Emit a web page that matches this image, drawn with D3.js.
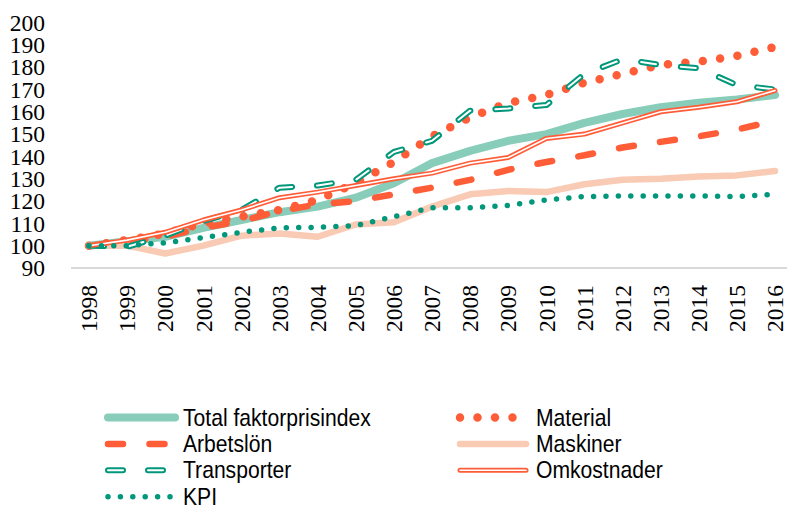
<!DOCTYPE html>
<html>
<head>
<meta charset="utf-8">
<script src="https://cdn.jsdelivr.net/npm/d3@7"></script>
<style>
  body { margin: 0; background: #fff; }
  svg { display: block; }
  .ylab, .xlab { font-family: "Liberation Serif", "Times New Roman", serif; font-size: 23.5px; fill: #000; }
  .leg { font-family: "Liberation Sans", Arial, sans-serif; font-size: 24px; fill: #000; }
</style>
</head>
<body>
<svg id="chart" width="787" height="505"></svg>
<script>
var years = ["1998","1999","2000","2001","2002","2003","2004","2005","2006","2007","2008","2009","2010","2011","2012","2013","2014","2015","2016"];
var yTicks = [90,100,110,120,130,140,150,160,170,180,190,200];

var total       = [100,102,104,108,111.5,115,117.5,121.5,128,137,142.5,147,150,155,159,162,164,165.5,167.5];
var material    = [100,102.5,105.5,110,113,116,120.5,128,137.5,149,157.5,164,167.5,173,177,181,182.5,185,189];
var arbetslon   = [100,102,104,108,111,115.5,118.5,120,123,126,129.5,134,137.5,140.5,144,146.5,149,152,156];
var maskiner    = [100,100,96.5,100,104.5,105.5,104,109.5,110.5,117.5,123,124.5,124,127.5,129.5,130,131,131.5,133.5];
var transporter = [100,99.5,104.5,111,116,126,127,129.5,142,147,160.5,161.5,163,177,183.5,181,179.5,172,170];
var omkostnader = [100,102.5,106,111.5,116,121.5,124,127,130,132.5,137,139.5,148,150,155,160,162,164.5,169.5];
var kpi         = [100,100,101.3,103.6,106,108,108.2,109,113,117,117,118,120.5,122,122.3,122.3,122.3,122,123];

var teal = "#00977a", tealLight = "#88cdb9", orange = "#ff5c38", peach = "#f9cab4";

// each series: list of stroke layers drawn on top of each other
var series = [
  {name: "Total faktorprisindex", values: total, layers: [{color: tealLight, width: 8}]},
  {name: "Material", values: material, layers: [{color: orange, width: 8.5, dash: "0,17.5"}]},
  {name: "Arbetslön", values: arbetslon, layers: [{color: orange, width: 6.5, dash: "15,26.5"}]},
  {name: "Maskiner", values: maskiner, layers: [{color: peach, width: 6.5}]},
  {name: "Transporter", values: transporter, layers: [{color: teal, width: 6, dash: "15,25"}, {color: "#fff", width: 2, dash: "15,25"}]},
  {name: "Omkostnader", values: omkostnader, layers: [{color: orange, width: 5}, {color: "#fff", width: 1.6}]},
  {name: "KPI", values: kpi, layers: [{color: teal, width: 5.5, dash: "0,12.4"}]}
];

var svg = d3.select("#chart");

var x = d3.scalePoint().domain(years).range([89, 775]);
var y = d3.scaleLinear().domain([90, 200]).range([268, 22.5]);

// y labels
svg.append("g").selectAll("text")
    .data(yTicks)
    .enter().append("text")
    .attr("class", "ylab")
    .attr("x", 45)
    .attr("y", function(d) { return y(d); })
    .attr("dy", "0.35em")
    .attr("text-anchor", "end")
    .text(function(d) { return d; });

// baseline
svg.append("line")
    .attr("x1", 71).attr("x2", 787)
    .attr("y1", y(90)).attr("y2", y(90))
    .attr("stroke", "#d9d9d9")
    .attr("stroke-width", 2);

// x labels, rotated
svg.append("g").selectAll("text")
    .data(years)
    .enter().append("text")
    .attr("class", "xlab")
    .attr("transform", function(d) { return "translate(" + x(d) + ",285) rotate(-90)"; })
    .attr("dy", "0.35em")
    .attr("text-anchor", "end")
    .text(function(d) { return d; });

var line = d3.line()
    .x(function(d, i) { return x(years[i]); })
    .y(function(d) { return y(d); });

function drawLayers(g, layer, pathData) {
  g.append("path")
      .attr("d", pathData)
      .attr("fill", "none")
      .attr("stroke", layer.color)
      .attr("stroke-width", layer.width)
      .attr("stroke-linecap", "round")
      .attr("stroke-linejoin", "round")
      .attr("stroke-dasharray", layer.dash || null);
}

var plot = svg.append("g");
series.forEach(function(s) {
  var g = plot.append("g");
  s.layers.forEach(function(l) { drawLayers(g, l, line(s.values)); });
});

// legend, two columns, row-wise; text squeezed to look like a narrow face
var legend = svg.append("g");
series.forEach(function(s, i) {
  var col = i % 2, row = Math.floor(i / 2);
  var x0 = col === 0 ? 108 : 460;
  var x1 = col === 0 ? 175 : 526;
  var cy = 417.5 + row * 26.4;
  var g = legend.append("g");
  s.layers.forEach(function(l) {
    drawLayers(g, l, "M" + x0 + "," + cy + "L" + x1 + "," + cy);
  });
  g.append("text")
      .attr("class", "leg")
      .attr("transform", "translate(" + (col === 0 ? 183 : 536) + "," + (cy + 8) + ") scale(0.88,1)")
      .text(s.name);
});
</script>
</body>
</html>
